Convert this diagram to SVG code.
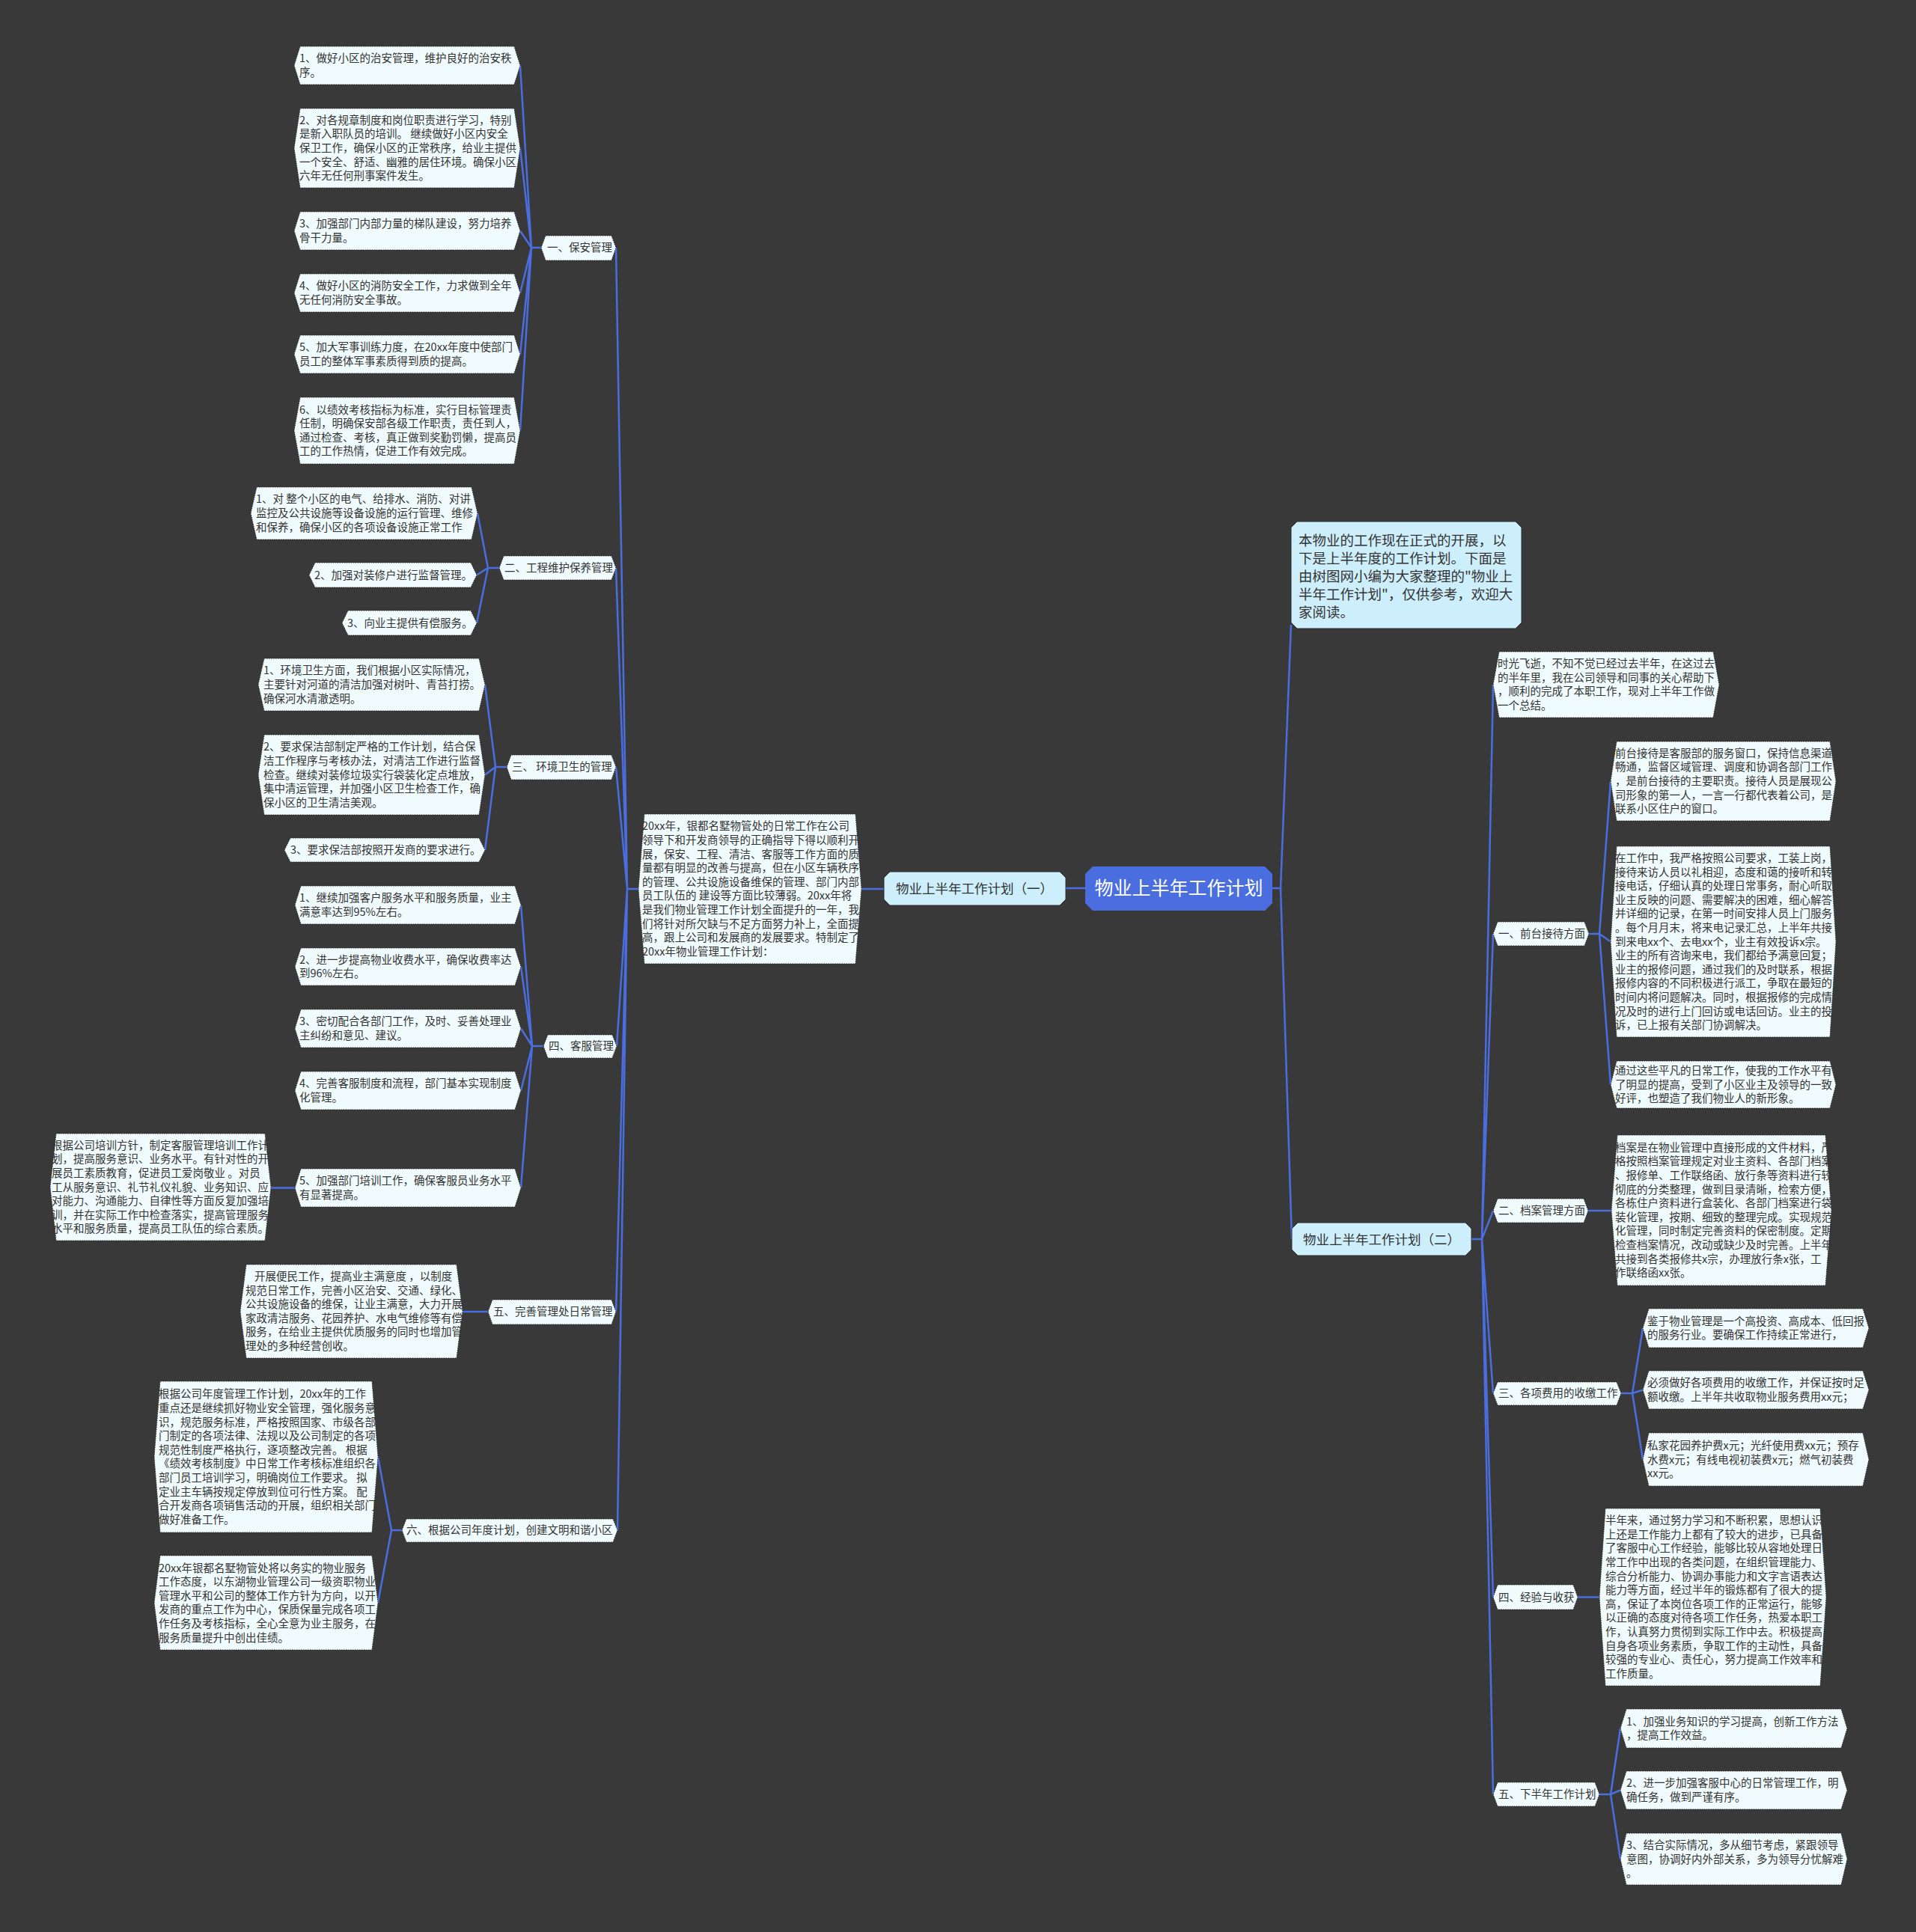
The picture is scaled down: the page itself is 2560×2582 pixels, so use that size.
<svg xmlns="http://www.w3.org/2000/svg" width="2560" height="2582" viewBox="0 0 2560 2582">
<style>
.leaf{fill:#f0fbfd;stroke:#2e2e2e;stroke-width:1;stroke-dasharray:1.5 1.5}
.l1{fill:#cdeefb;stroke:#2e2e2e;stroke-width:1}
.root{fill:#4a6ee0}
.t{font-family:"Noto Sans CJK SC","Noto Sans",sans-serif;font-size:14.5px;fill:#333}
.t1{font-family:"Noto Sans CJK SC","Noto Sans",sans-serif;font-size:17.5px;fill:#333;text-anchor:middle}
.ti{font-family:"Noto Sans CJK SC","Noto Sans",sans-serif;font-size:18.5px;fill:#333}
.tr{font-family:"Noto Sans CJK SC","Noto Sans",sans-serif;font-size:25px;fill:#fff;text-anchor:middle}
.c{fill:none;stroke:#4a6ee0;stroke-width:2.5;stroke-linejoin:round}
</style>
<rect width="2560" height="2582" fill="#393939"/>
<g id="connectors">
<path class="c" d="M723,331 H710 L695,87.5 M710,331 L695,198 M710,331 L695,308.5 M710,331 L695,391.5 M710,331 L695,473.5 M710,331 L695,575.5"/>
<path class="c" d="M667,759 H652 L638,686 M652,759 L637,768.5 M652,759 L637,832.5"/>
<path class="c" d="M677,1025 H662 L648,915 M662,1025 L648,1035.5 M662,1025 L648,1136"/>
<path class="c" d="M726,1398 H711 L696,1209.5 M711,1398 L696,1292 M711,1398 L696,1374.5 M711,1398 L696,1457.5 M711,1398 L696,1587.5 M394,1587.5 H362"/>
<path class="c" d="M652,1753 H618"/>
<path class="c" d="M537,2045 H523 L505,1947 M523,2045 L505,2142"/>
<path class="c" d="M853,1188 H838 L823,331 M838,1188 L823,759 M838,1188 L823,1025 M838,1188 L824,1398 M838,1188 L823,1753 M838,1188 L825,2045"/>
<path class="c" d="M1151,1188 H1181"/>
<path class="c" d="M1450,1187 H1424" stroke-width="3.5"/>
<path class="c" d="M1700,1187 H1711 L1725,835 M1711,1187 L1726,1656"/>
<path class="c" d="M1966,1656 H1980 L1995,915 M1980,1656 L1995,1248 M1980,1656 L1995,1618 M1980,1656 L1995,1862 M1980,1656 L1995,2134.5 M1980,1656 L1995,2398"/>
<path class="c" d="M2123,1248 H2137 L2152,1044 M2137,1248 L2152,1258.5 M2137,1248 L2152,1449.5"/>
<path class="c" d="M2122,1618 H2153"/>
<path class="c" d="M2166,1862 H2181 L2195,1775 M2181,1862 L2195,1857.5 M2181,1862 L2195,1950.5"/>
<path class="c" d="M2108,2134.5 H2137"/>
<path class="c" d="M2137,2398 H2152 L2165,2310 M2152,2398 L2165,2392.5 M2152,2398 L2165,2484.5"/>
</g>

<g id="root">
<polygon class="root" points="1460,1158 1690,1158 1700,1168 1700,1207 1690,1217 1460,1217 1450,1207 1450,1168"/>
<text class="tr" x="1575" y="1196">物业上半年工作计划</text>
</g>

<g id="plan1">
<polygon class="l1" points="1189,1165 1416,1165 1424,1173 1424,1202 1416,1210 1189,1210 1181,1202 1181,1173"/>
<text class="t1" x="1302" y="1194">物业上半年工作计划（一）</text>
</g>

<g id="para1">
<polygon class="leaf" points="853,1188 861,1088 1143,1088 1151,1188 1143,1288 861,1288"/>
<text class="t"><tspan x="858" y="1109.3">20xx年，银都名墅物管处的日常工作在公司</tspan><tspan x="858" y="1127.9">领导下和开发商领导的正确指导下得以顺利开</tspan><tspan x="858" y="1146.5">展，保安、工程、清洁、客服等工作方面的质</tspan><tspan x="858" y="1165.1">量都有明显的改善与提高，但在小区车辆秩序</tspan><tspan x="858" y="1183.7">的管理、公共设施设备维保的管理、部门内部</tspan><tspan x="858" y="1202.3">员工队伍的 建设等方面比较薄弱。20xx年将</tspan><tspan x="858" y="1220.9">是我们物业管理工作计划全面提升的一年，我</tspan><tspan x="858" y="1239.5">们将针对所欠缺与不足方面努力补上，全面提</tspan><tspan x="858" y="1258.1">高，跟上公司和发展商的发展要求。特制定了</tspan><tspan x="858" y="1276.7">20xx年物业管理工作计划：</tspan></text>
</g>

<g id="s1">
<polygon class="leaf" points="723,331 729,315 817,315 823,331 817,348 729,348"/>
<text class="t" x="731" y="336">一、保安管理</text>
</g>
<g id="s1c1">
<polygon class="leaf" points="393,87.5 401,62 687,62 695,87.5 687,113 401,113"/>
<text class="t"><tspan x="400" y="83.2">1、做好小区的治安管理，维护良好的治安秩</tspan><tspan x="400" y="101.8">序。</tspan></text>
</g>
<g id="s1c2">
<polygon class="leaf" points="393,198 401,145 687,145 695,198 687,251 401,251"/>
<text class="t"><tspan x="400" y="165.8">2、对各规章制度和岗位职责进行学习，特别</tspan><tspan x="400" y="184.4">是新入职队员的培训。 继续做好小区内安全</tspan><tspan x="400" y="203">保卫工作，确保小区的正常秩序，给业主提供</tspan><tspan x="400" y="221.6">一个安全、舒适、幽雅的居住环境。确保小区</tspan><tspan x="400" y="240.2">六年无任何刑事案件发生。</tspan></text>
</g>
<g id="s1c3">
<polygon class="leaf" points="393,308.5 401,283 687,283 695,308.5 687,334 401,334"/>
<text class="t"><tspan x="400" y="304.2">3、加强部门内部力量的梯队建设，努力培养</tspan><tspan x="400" y="322.8">骨干力量。</tspan></text>
</g>
<g id="s1c4">
<polygon class="leaf" points="393,391.5 401,366 687,366 695,391.5 687,417 401,417"/>
<text class="t"><tspan x="400" y="387.2">4、做好小区的消防安全工作，力求做到全年</tspan><tspan x="400" y="405.8">无任何消防安全事故。</tspan></text>
</g>
<g id="s1c5">
<polygon class="leaf" points="393,473.5 401,448 687,448 695,473.5 687,499 401,499"/>
<text class="t"><tspan x="400" y="469.2">5、加大军事训练力度，在20xx年度中使部门</tspan><tspan x="400" y="487.8">员工的整体军事素质得到质的提高。</tspan></text>
</g>
<g id="s1c6">
<polygon class="leaf" points="393,575.5 401,531 687,531 695,575.5 687,620 401,620"/>
<text class="t"><tspan x="400" y="552.6">6、以绩效考核指标为标准，实行目标管理责</tspan><tspan x="400" y="571.2">任制，明确保安部各级工作职责，责任到人，</tspan><tspan x="400" y="589.8">通过检查、考核，真正做到奖勤罚懒，提高员</tspan><tspan x="400" y="608.4">工的工作热情，促进工作有效完成。</tspan></text>
</g>

<g id="s2">
<polygon class="leaf" points="667,759 673,743 817,743 823,759 817,775 673,775"/>
<text class="t" x="674" y="764">二、工程维护保养管理</text>
</g>
<g id="s2c1">
<polygon class="leaf" points="335,686 343,651 630,651 638,686 630,721 343,721"/>
<text class="t"><tspan x="342" y="672.4">1、对 整个小区的电气、给排水、消防、对讲</tspan><tspan x="342" y="691">监控及公共设施等设备设施的运行管理、维修</tspan><tspan x="342" y="709.6">和保养，确保小区的各项设备设施正常工作</tspan></text>
</g>
<g id="s2c2">
<polygon class="leaf" points="413,768.5 421,752 629,752 637,768.5 629,785 421,785"/>
<text class="t" x="420" y="773.5">2、加强对装修户进行监督管理。</text>
</g>
<g id="s2c3">
<polygon class="leaf" points="457,832.5 465,816 629,816 637,832.5 629,849 465,849"/>
<text class="t" x="464" y="837.5">3、向业主提供有偿服务。</text>
</g>

<g id="s3">
<polygon class="leaf" points="677,1025 683,1009 817,1009 823,1025 817,1042 683,1042"/>
<text class="t" x="684" y="1030">三、 环境卫生的管理</text>
</g>
<g id="s3c1">
<polygon class="leaf" points="345,915 353,880 640,880 648,915 640,950 353,950"/>
<text class="t"><tspan x="352" y="901.4">1、环境卫生方面，我们根据小区实际情况，</tspan><tspan x="352" y="920">主要针对河道的清洁加强对树叶、青苔打捞。</tspan><tspan x="352" y="938.6">确保河水清澈透明。</tspan></text>
</g>
<g id="s3c2">
<polygon class="leaf" points="345,1035.5 353,982 640,982 648,1035.5 640,1089 353,1089"/>
<text class="t"><tspan x="352" y="1003.3">2、要求保洁部制定严格的工作计划，结合保</tspan><tspan x="352" y="1021.9">洁工作程序与考核办法，对清洁工作进行监督</tspan><tspan x="352" y="1040.5">检查。继续对装修垃圾实行袋装化定点堆放，</tspan><tspan x="352" y="1059.1">集中清运管理，并加强小区卫生检查工作，确</tspan><tspan x="352" y="1077.7">保小区的卫生清洁美观。</tspan></text>
</g>
<g id="s3c3">
<polygon class="leaf" points="380,1136 388,1120 640,1120 648,1136 640,1152 388,1152"/>
<text class="t" x="388" y="1141">3、要求保洁部按照开发商的要求进行。</text>
</g>

<g id="s4">
<polygon class="leaf" points="726,1398 732,1383 818,1383 824,1398 818,1414 732,1414"/>
<text class="t" x="733" y="1403">四、客服管理</text>
</g>
<g id="s4c1">
<polygon class="leaf" points="394,1209.5 402,1184 688,1184 696,1209.5 688,1235 402,1235"/>
<text class="t"><tspan x="400" y="1205.2">1、继续加强客户服务水平和服务质量，业主</tspan><tspan x="400" y="1223.8">满意率达到95%左右。</tspan></text>
</g>
<g id="s4c2">
<polygon class="leaf" points="394,1292 402,1267 688,1267 696,1292 688,1317 402,1317"/>
<text class="t"><tspan x="400" y="1287.7">2、进一步提高物业收费水平，确保收费率达</tspan><tspan x="400" y="1306.3">到96%左右。</tspan></text>
</g>
<g id="s4c3">
<polygon class="leaf" points="394,1374.5 402,1349 688,1349 696,1374.5 688,1400 402,1400"/>
<text class="t"><tspan x="400" y="1370.2">3、密切配合各部门工作，及时、妥善处理业</tspan><tspan x="400" y="1388.8">主纠纷和意见、建议。</tspan></text>
</g>
<g id="s4c4">
<polygon class="leaf" points="394,1457.5 402,1432 688,1432 696,1457.5 688,1483 402,1483"/>
<text class="t"><tspan x="400" y="1453.2">4、完善客服制度和流程，部门基本实现制度</tspan><tspan x="400" y="1471.8">化管理。</tspan></text>
</g>
<g id="s4c5">
<polygon class="leaf" points="394,1587.5 402,1562 688,1562 696,1587.5 688,1613 402,1613"/>
<text class="t"><tspan x="400" y="1583.2">5、加强部门培训工作，确保客服员业务水平</tspan><tspan x="400" y="1601.8">有显著提高。</tspan></text>
</g>
<g id="s4c5a">
<polygon class="leaf" points="67,1586.5 75,1515 354,1515 362,1586.5 354,1658 75,1658"/>
<text class="t"><tspan x="69" y="1535.7">根据公司培训方针，制定客服管理培训工作计</tspan><tspan x="69" y="1554.3">划，提高服务意识、业务水平。有针对性的开</tspan><tspan x="69" y="1572.9">展员工素质教育，促进员工爱岗敬业 。对员</tspan><tspan x="69" y="1591.5">工从服务意识、礼节礼仪礼貌、业务知识、应</tspan><tspan x="69" y="1610.1">对能力、沟通能力、自律性等方面反复加强培</tspan><tspan x="69" y="1628.7">训，并在实际工作中检查落实，提高管理服务</tspan><tspan x="69" y="1647.3">水平和服务质量，提高员工队伍的综合素质。</tspan></text>
</g>

<g id="s5">
<polygon class="leaf" points="652,1753 658,1737 817,1737 823,1753 817,1770 658,1770"/>
<text class="t" x="659" y="1758">五、完善管理处日常管理</text>
</g>
<g id="s5c1">
<polygon class="leaf" points="321,1752.5 329,1690 610,1690 618,1752.5 610,1815 329,1815"/>
<text class="t"><tspan x="340" y="1711">开展便民工作，提高业主满意度 ，以制度</tspan><tspan x="328" y="1729.6">规范日常工作，完善小区治安、交通、绿化、</tspan><tspan x="328" y="1748.2">公共设施设备的维保，让业主满意，大力开展</tspan><tspan x="328" y="1766.8">家政清洁服务、花园养护、水电气维修等有偿</tspan><tspan x="328" y="1785.4">服务，在给业主提供优质服务的同时也增加管</tspan><tspan x="328" y="1804">理处的多种经营创收。</tspan></text>
</g>

<g id="s6">
<polygon class="leaf" points="537,2045 543,2030 819,2030 825,2045 819,2061 543,2061"/>
<text class="t" x="543" y="2050">六、根据公司年度计划，创建文明和谐小区</text>
</g>
<g id="s6c1">
<polygon class="leaf" points="206,1947 214,1846 497,1846 505,1947 497,2048 214,2048"/>
<text class="t"><tspan x="212" y="1868.3">根据公司年度管理工作计划，20xx年的工作</tspan><tspan x="212" y="1886.9">重点还是继续抓好物业安全管理，强化服务意</tspan><tspan x="212" y="1905.5">识，规范服务标准，严格按照国家、市级各部</tspan><tspan x="212" y="1924.1">门制定的各项法律、法规以及公司制定的各项</tspan><tspan x="212" y="1942.7">规范性制度严格执行，逐项整改完善。 根据</tspan><tspan x="212" y="1961.3">《绩效考核制度》中日常工作考核标准组织各</tspan><tspan x="212" y="1979.9">部门员工培训学习，明确岗位工作要求。 拟</tspan><tspan x="212" y="1998.5">定业主车辆按规定停放到位可行性方案。 配</tspan><tspan x="212" y="2017.1">合开发商各项销售活动的开展，组织相关部门</tspan><tspan x="212" y="2035.7">做好准备工作。</tspan></text>
</g>
<g id="s6c2">
<polygon class="leaf" points="206,2142 214,2079 497,2079 505,2142 497,2205 214,2205"/>
<text class="t"><tspan x="212" y="2100.5">20xx年银都名墅物管处将以务实的物业服务</tspan><tspan x="212" y="2119.1">工作态度，以东湖物业管理公司一级资职物业</tspan><tspan x="212" y="2137.7">管理水平和公司的整体工作方针为方向，以开</tspan><tspan x="212" y="2156.3">发商的重点工作为中心，保质保量完成各项工</tspan><tspan x="212" y="2174.9">作任务及考核指标，全心全意为业主服务，在</tspan><tspan x="212" y="2193.5">服务质量提升中创出佳绩。</tspan></text>
</g>

<g id="intro">
<polygon class="l1" points="1733,697 2025,697 2033,705 2033,832 2025,840 1733,840 1725,832 1725,705"/>
<text class="ti"><tspan x="1735" y="728.5">本物业的工作现在正式的开展，以</tspan><tspan x="1735" y="752.5">下是上半年度的工作计划。下面是</tspan><tspan x="1735" y="776.5">由树图网小编为大家整理的"物业上</tspan><tspan x="1735" y="800.5">半年工作计划"，仅供参考，欢迎大</tspan><tspan x="1735" y="824.5">家阅读。</tspan></text>
</g>

<g id="plan2">
<polygon class="l1" points="1734,1634 1958,1634 1966,1642 1966,1670 1958,1678 1734,1678 1726,1670 1726,1642"/>
<text class="t1" x="1846" y="1663">物业上半年工作计划（二）</text>
</g>

<g id="r0">
<polygon class="leaf" points="1995,915 2003,871 2289,871 2297,915 2289,959 2003,959"/>
<text class="t"><tspan x="2001" y="892.1">时光飞逝，不知不觉已经过去半年，在这过去</tspan><tspan x="2001" y="910.7">的半年里，我在公司领导和同事的关心帮助下</tspan><tspan x="2001" y="929.3">，顺利的完成了本职工作，现对上半年工作做</tspan><tspan x="2001" y="947.9">一个总结。</tspan></text>
</g>

<g id="r1">
<polygon class="leaf" points="1995,1248 2001,1232 2117,1232 2123,1248 2117,1264 2001,1264"/>
<text class="t" x="2002" y="1253">一、前台接待方面</text>
</g>
<g id="r1c1">
<polygon class="leaf" points="2152,1044 2160,991 2445,991 2453,1044 2445,1097 2160,1097"/>
<text class="t"><tspan x="2158" y="1011.8">前台接待是客服部的服务窗口，保持信息渠道</tspan><tspan x="2158" y="1030.4">畅通，监督区域管理、调度和协调各部门工作</tspan><tspan x="2158" y="1049">，是前台接待的主要职责。接待人员是展现公</tspan><tspan x="2158" y="1067.6">司形象的第一人，一言一行都代表着公司，是</tspan><tspan x="2158" y="1086.2">联系小区住户的窗口。</tspan></text>
</g>
<g id="r1c2">
<polygon class="leaf" points="2152,1258.5 2160,1131 2445,1131 2453,1258.5 2445,1386 2160,1386"/>
<text class="t"><tspan x="2158" y="1151.9">在工作中，我严格按照公司要求，工装上岗，</tspan><tspan x="2158" y="1170.5">接待来访人员以礼相迎，态度和蔼的接听和转</tspan><tspan x="2158" y="1189.1">接电话，仔细认真的处理日常事务，耐心听取</tspan><tspan x="2158" y="1207.7">业主反映的问题、需要解决的困难，细心解答</tspan><tspan x="2158" y="1226.3">并详细的记录，在第一时间安排人员上门服务</tspan><tspan x="2158" y="1244.9">。每个月月末，将来电记录汇总，上半年共接</tspan><tspan x="2158" y="1263.5">到来电xx个、去电xx个，业主有效投诉x宗。</tspan><tspan x="2158" y="1282.1">业主的所有咨询来电，我们都给予满意回复；</tspan><tspan x="2158" y="1300.7">业主的报修问题，通过我们的及时联系，根据</tspan><tspan x="2158" y="1319.3">报修内容的不同积极进行派工，争取在最短的</tspan><tspan x="2158" y="1337.9">时间内将问题解决。同时，根据报修的完成情</tspan><tspan x="2158" y="1356.5">况及时的进行上门回访或电话回访。业主的投</tspan><tspan x="2158" y="1375.1">诉，已上报有关部门协调解决。</tspan></text>
</g>
<g id="r1c3">
<polygon class="leaf" points="2152,1449.5 2160,1418 2445,1418 2453,1449.5 2445,1481 2160,1481"/>
<text class="t"><tspan x="2158" y="1435.9">通过这些平凡的日常工作，使我的工作水平有</tspan><tspan x="2158" y="1454.5">了明显的提高，受到了小区业主及领导的一致</tspan><tspan x="2158" y="1473.1">好评，也塑造了我们物业人的新形象。</tspan></text>
</g>

<g id="r2">
<polygon class="leaf" points="1995,1618 2001,1602 2116,1602 2122,1618 2116,1634 2001,1634"/>
<text class="t" x="2002" y="1623">二、档案管理方面</text>
</g>
<g id="r2c1">
<polygon class="leaf" points="2153,1617.5 2161,1517 2439,1517 2447,1617.5 2439,1718 2161,1718"/>
<text class="t"><tspan x="2158" y="1538.8">档案是在物业管理中直接形成的文件材料，严</tspan><tspan x="2158" y="1557.4">格按照档案管理规定对业主资料、各部门档案</tspan><tspan x="2158" y="1576">、报修单、工作联络函、放行条等资料进行较</tspan><tspan x="2158" y="1594.6">彻底的分类整理，做到目录清晰，检索方便，</tspan><tspan x="2158" y="1613.2">各栋住户资料进行盒装化、各部门档案进行袋</tspan><tspan x="2158" y="1631.8">装化管理，按期、细致的整理完成。实现规范</tspan><tspan x="2158" y="1650.4">化管理，同时制定完善资料的保密制度。定期</tspan><tspan x="2158" y="1669">检查档案情况，改动或缺少及时完善。上半年</tspan><tspan x="2158" y="1687.6">共接到各类报修共x宗，办理放行条x张，工</tspan><tspan x="2158" y="1706.2">作联络函xx张。</tspan></text>
</g>

<g id="r3">
<polygon class="leaf" points="1995,1862 2001,1847 2160,1847 2166,1862 2160,1878 2001,1878"/>
<text class="t" x="2002" y="1867">三、各项费用的收缴工作</text>
</g>
<g id="r3c1">
<polygon class="leaf" points="2195,1775 2203,1749 2489,1749 2497,1775 2489,1801 2203,1801"/>
<text class="t"><tspan x="2201" y="1770.7">鉴于物业管理是一个高投资、高成本、低回报</tspan><tspan x="2201" y="1789.3">的服务行业。要确保工作持续正常进行，</tspan></text>
</g>
<g id="r3c2">
<polygon class="leaf" points="2195,1857.5 2203,1832 2489,1832 2497,1857.5 2489,1883 2203,1883"/>
<text class="t"><tspan x="2201" y="1853.2">必须做好各项费用的收缴工作，并保证按时足</tspan><tspan x="2201" y="1871.8">额收缴。上半年共收取物业服务费用xx元；</tspan></text>
</g>
<g id="r3c3">
<polygon class="leaf" points="2195,1950.5 2203,1915 2489,1915 2497,1950.5 2489,1986 2203,1986"/>
<text class="t"><tspan x="2201" y="1936.9">私家花园养护费x元；光纤使用费xx元；预存</tspan><tspan x="2201" y="1955.5">水费x元；有线电视初装费x元；燃气初装费</tspan><tspan x="2201" y="1974.1">xx元。</tspan></text>
</g>

<g id="r4">
<polygon class="leaf" points="1995,2134.5 2001,2118 2102,2118 2108,2134.5 2102,2151 2001,2151"/>
<text class="t" x="2002" y="2139.5">四、经验与收获</text>
</g>
<g id="r4c1">
<polygon class="leaf" points="2137,2134.5 2145,2016 2432,2016 2440,2134.5 2432,2253 2145,2253"/>
<text class="t"><tspan x="2145" y="2037.2">半年来，通过努力学习和不断积累，思想认识</tspan><tspan x="2145" y="2055.8">上还是工作能力上都有了较大的进步，已具备</tspan><tspan x="2145" y="2074.4">了客服中心工作经验，能够比较从容地处理日</tspan><tspan x="2145" y="2093">常工作中出现的各类问题，在组织管理能力、</tspan><tspan x="2145" y="2111.6">综合分析能力、协调办事能力和文字言语表达</tspan><tspan x="2145" y="2130.2">能力等方面，经过半年的锻炼都有了很大的提</tspan><tspan x="2145" y="2148.8">高，保证了本岗位各项工作的正常运行，能够</tspan><tspan x="2145" y="2167.4">以正确的态度对待各项工作任务，热爱本职工</tspan><tspan x="2145" y="2186">作，认真努力贯彻到实际工作中去。积极提高</tspan><tspan x="2145" y="2204.6">自身各项业务素质，争取工作的主动性，具备</tspan><tspan x="2145" y="2223.2">较强的专业心、责任心，努力提高工作效率和</tspan><tspan x="2145" y="2241.8">工作质量。</tspan></text>
</g>

<g id="r5">
<polygon class="leaf" points="1995,2398 2001,2382 2131,2382 2137,2398 2131,2414 2001,2414"/>
<text class="t" x="2002" y="2403">五、下半年工作计划</text>
</g>
<g id="r5c1">
<polygon class="leaf" points="2165,2310 2173,2284 2460,2284 2468,2310 2460,2336 2173,2336"/>
<text class="t"><tspan x="2173" y="2305.7">1、加强业务知识的学习提高，创新工作方法</tspan><tspan x="2173" y="2324.3">，提高工作效益。</tspan></text>
</g>
<g id="r5c2">
<polygon class="leaf" points="2165,2392.5 2173,2367 2460,2367 2468,2392.5 2460,2418 2173,2418"/>
<text class="t"><tspan x="2173" y="2388.2">2、进一步加强客服中心的日常管理工作，明</tspan><tspan x="2173" y="2406.8">确任务，做到严谨有序。</tspan></text>
</g>
<g id="r5c3">
<polygon class="leaf" points="2165,2484.5 2173,2450 2460,2450 2468,2484.5 2460,2519 2173,2519"/>
<text class="t"><tspan x="2173" y="2470.9">3、结合实际情况，多从细节考虑，紧跟领导</tspan><tspan x="2173" y="2489.5">意图，协调好内外部关系，多为领导分忧解难</tspan><tspan x="2173" y="2508.1">。</tspan></text>
</g>
</svg>
